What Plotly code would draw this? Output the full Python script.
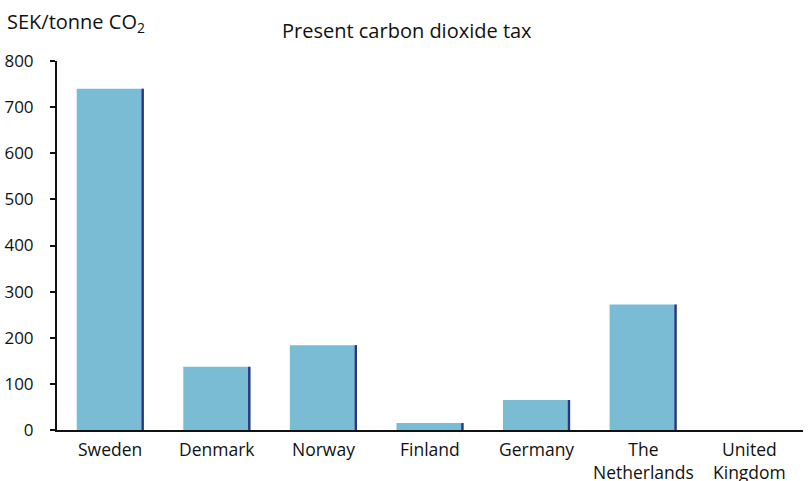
import plotly.graph_objects as go

countries = ["Sweden", "Denmark", "Norway", "Finland", "Germany",
             "The Netherlands", "United Kingdom"]
label_lines = [["Sweden"], ["Denmark"], ["Norway"], ["Finland"], ["Germany"],
               ["The", "Netherlands"], ["United", "Kingdom"]]
tax_sek = [740, 137, 184, 15, 65, 272, 0]
y_ticks = [0, 100, 200, 300, 400, 500, 600, 700, 800]

FONT = "Open Sans"
BAR_W = 0.63
EDGE_W = 0.022
LABEL_SIZE = 17.5

fig = go.Figure()
# main bar faces
fig.add_trace(go.Bar(
    x=countries, y=tax_sek, width=BAR_W,
    marker=dict(color="#7bbcd5", line=dict(width=0)),
    hoverinfo="x+y",
))
# dark shaded right edge of each bar
fig.add_trace(go.Bar(
    x=countries, y=tax_sek, width=EDGE_W, offset=BAR_W / 2 - EDGE_W,
    marker=dict(color="#2c3580", line=dict(width=0)),
    hoverinfo="skip",
))

# category labels hanging from the axis line
annotations = []
for name, lines in zip(countries, label_lines):
    annotations.append(dict(
        text="<br>".join(lines), x=name, xref="x", y=0, yref="y",
        xanchor="center", yanchor="top", yshift=-6,
        showarrow=False, borderpad=0,
        font=dict(size=LABEL_SIZE, family=FONT),
    ))

annotations += [
    dict(text="SEK/tonne CO<sub>2</sub>", x=0, xref="paper", xanchor="left",
         xshift=-52, y=1, yref="paper", yanchor="bottom", yshift=22,
         showarrow=False, font=dict(size=20, family=FONT)),
    dict(text="Present carbon dioxide tax", x=0.5, xref="paper",
         xanchor="center", xshift=-23, y=1, yref="paper", yanchor="bottom",
         yshift=15, showarrow=False, font=dict(size=20, family=FONT)),
]

fig.update_layout(
    width=812, height=481,
    margin=dict(l=57, r=9, t=61, b=51),
    paper_bgcolor="white", plot_bgcolor="white",
    barmode="overlay", showlegend=False,
    font=dict(family=FONT, color="#111111"),
    xaxis=dict(
        range=[-0.5, 6.5], showline=True, linecolor="#111111", linewidth=2,
        ticks="", showgrid=False, zeroline=False, automargin=False,
        showticklabels=False,
    ),
    yaxis=dict(
        range=[0, 800], tickvals=y_ticks, showline=True, linecolor="#111111",
        linewidth=2, ticks="outside", ticklen=5, tickwidth=2,
        tickcolor="#111111", showgrid=False, zeroline=False, automargin=False,
        tickfont=dict(size=17, family=FONT), ticklabelstandoff=13,
    ),
    annotations=annotations,
)

fig.write_html("out.html")
